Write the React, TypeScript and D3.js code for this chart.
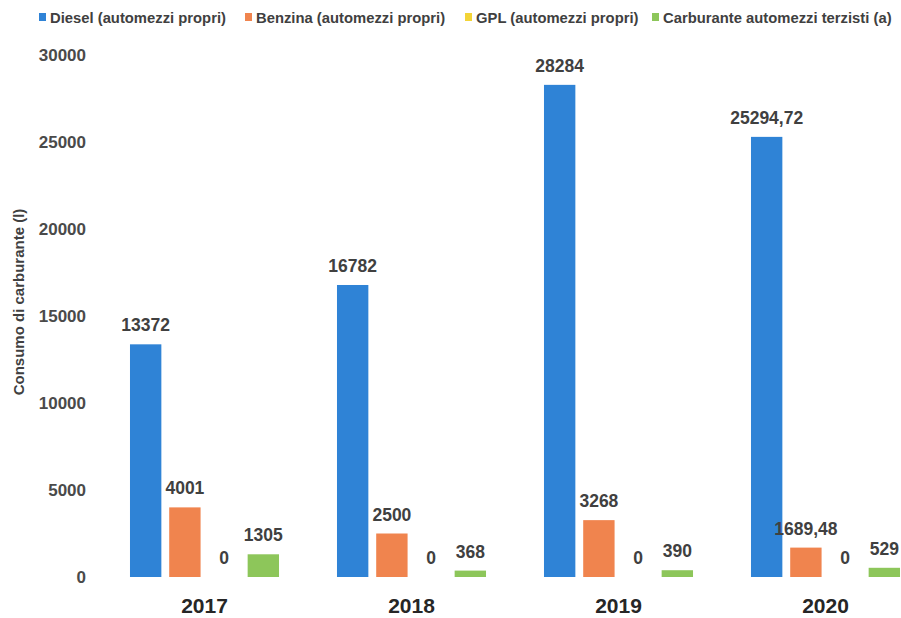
import * as d3 from "d3";

const WIDTH = 901;
const HEIGHT = 618;
const YEARS = ["2017", "2018", "2019", "2020"];
const SERIES = [
  "Diesel (automezzi propri)",
  "Benzina (automezzi propri)",
  "GPL (automezzi propri)",
  "Carburante automezzi terzisti (a)",
];
const DIESEL = [13372, 16782, 28284, 25294.72];
const BENZINA = [4001, 2500, 3268, 1689.48];
const GPL = [0, 0, 0, 0];
const TERZISTI = [1305, 368, 390, 529];
const Y_TICKS = [0, 5000, 10000, 15000, 20000, 25000, 30000];
const COLORS = ["#2f83d6", "#f0844e", "#f3d437", "#8dc65a"];
const LEGEND_X = [39, 245, 465, 652];

const FONT = "'Liberation Sans', Arial, sans-serif";

const fmt = (v: number) =>
  Number.isInteger(v) ? String(v) : v.toFixed(2).replace(".", ",");

export default function App() {
  const values = [DIESEL, BENZINA, GPL, TERZISTI];
  const x0 = d3
    .scaleBand()
    .domain(YEARS)
    .range([101, 929])
    .paddingInner(0.28)
    .paddingOuter(0.14);
  const x1 = d3
    .scaleBand()
    .domain(SERIES)
    .range([0, x0.bandwidth()])
    .paddingInner(0.2);
  const y = d3.scaleLinear().domain([0, 30000]).range([577, 55]);

  return (
    <svg
      width={WIDTH}
      height={HEIGHT}
      style={{ position: "absolute", left: 0, top: 0, fontFamily: FONT }}
    >
      {/* legend */}
      {SERIES.map((s, i) => (
        <g key={s} transform={`translate(${LEGEND_X[i]},17)`}>
          <rect x={0} y={-4} width={7} height={8} fill={COLORS[i]} />
          <text x={11} y={5.5} fontSize={14.8} fontWeight="bold" fill="#404040">
            {s}
          </text>
        </g>
      ))}
      {/* y axis ticks */}
      {Y_TICKS.map((t) => (
        <text
          key={t}
          x={86}
          y={y(t) + 6}
          textAnchor="end"
          fontSize={17}
          fontWeight="bold"
          fill="#4a4a4a"
        >
          {t}
        </text>
      ))}
      <text
        transform={`translate(24,302) rotate(-90)`}
        textAnchor="middle"
        fontSize={15}
        fontWeight="bold"
        fill="#404040"
      >
        Consumo di carburante (l)
      </text>
      {/* bars */}
      {YEARS.map((yr, yi) => (
        <g key={yr} transform={`translate(${x0(yr)},0)`}>
          {SERIES.map((s, si) => {
            const v = values[si][yi];
            const h = y(0) - y(v);
            const bx = x1(s) ?? 0;
            return (
              <g key={s}>
                {h > 0 && (
                  <rect x={bx} y={y(v)} width={x1.bandwidth()} height={h} fill={COLORS[si]} />
                )}
                <text
                  x={bx + x1.bandwidth() / 2}
                  y={y(v) - 13}
                  textAnchor="middle"
                  fontSize={17.5}
                  fontWeight="bold"
                  fill="#404040"
                >
                  {fmt(v)}
                </text>
              </g>
            );
          })}
          <text
            x={x0.bandwidth() / 2}
            y={613}
            textAnchor="middle"
            fontSize={21}
            fontWeight="bold"
            fill="#262626"
          >
            {yr}
          </text>
        </g>
      ))}
    </svg>
  );
}
